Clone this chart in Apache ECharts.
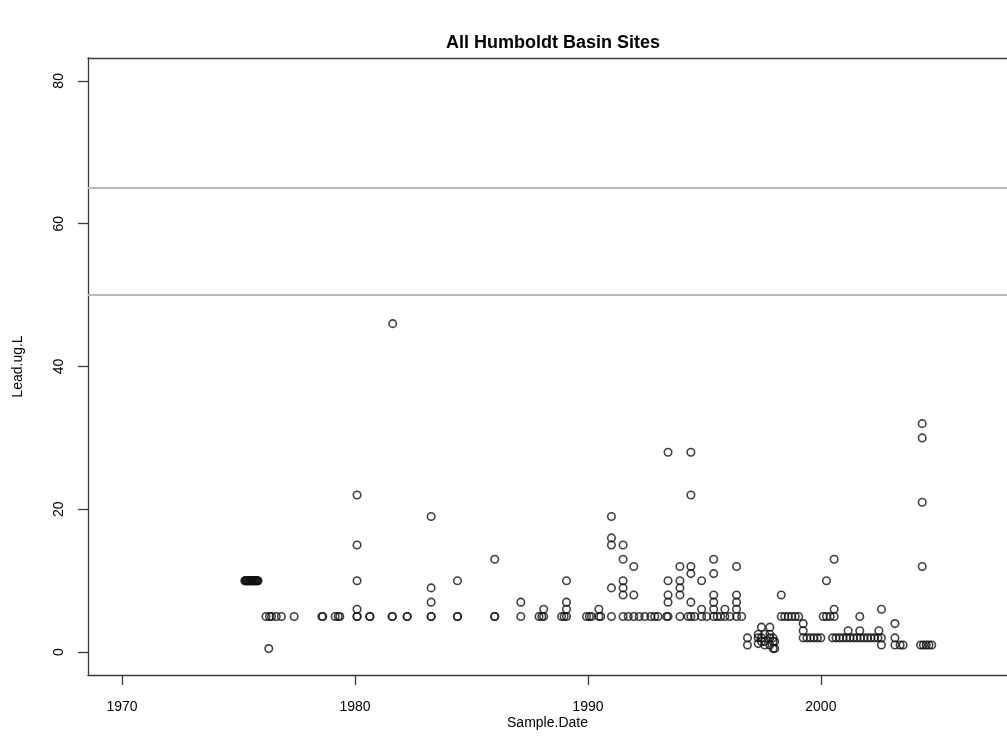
<!DOCTYPE html>
<html>
<head>
<meta charset="utf-8">
<script src="https://cdn.jsdelivr.net/npm/echarts@6/dist/echarts.min.js"></script>
<style>
html,body{margin:0;padding:0;background:#fff;}
#chart{width:1007px;height:756px;}
</style>
</head>
<body>
<div id="chart"></div>
<script>
// Sample dates (decimal years) and lead values (ug/L)
const sampleDate = [
  1975.27,1975.30,1975.33,1975.36,1975.39,1975.42,1975.45,1975.48,1975.51,1975.54,1975.57,1975.60,1975.63,1975.66,1975.69,1975.72,1975.75,1975.78,1975.81,1975.84,
  1976.18,1976.30,1976.33,1976.42,1976.62,1976.84,1977.39,
  1978.58,1978.62,1979.15,1979.28,1979.35,
  1980.09,1980.09,1980.09,1980.09,1980.09,1980.09,
  1980.64,1980.64,
  1981.62,1981.60,1981.60,
  1982.24,1982.24,
  1983.27,1983.27,1983.27,1983.27,1983.27,
  1984.40,1984.40,1984.40,
  1986.00,1986.00,1986.00,
  1987.12,1987.12,
  1987.90,1988.02,1988.10,1988.10,
  1988.87,1988.98,1989.08,1989.08,1989.08,1989.08,
  1989.94,1990.06,1990.15,
  1990.47,1990.47,1990.55,
  1991.01,1991.01,1991.01,1991.01,1991.01,
  1991.51,1991.51,1991.51,1991.51,1991.51,1991.51,
  1991.73,
  1991.97,1991.97,1991.97,
  1992.20,1992.44,1992.70,1992.87,1993.01,1993.38,
  1993.44,1993.44,1993.44,1993.44,1993.44,
  1993.95,1993.95,1993.95,1993.95,1993.95,
  1994.30,
  1994.42,1994.42,1994.42,1994.42,1994.42,1994.42,
  1994.58,
  1994.88,1994.88,1994.88,
  1995.10,
  1995.40,1995.40,1995.40,1995.40,1995.40,1995.40,
  1995.55,1995.70,1995.88,1995.88,1996.10,
  1996.38,1996.38,1996.38,1996.38,1996.38,
  1996.60,
  1996.85,1996.85,
  1997.31,1997.31,1997.31,
  1997.45,1997.45,1997.45,
  1997.59,1997.59,1997.59,
  1997.81,1997.81,1997.81,1997.81,
  1997.95,1997.95,1997.95,
  1998.02,1998.02,
  1998.30,1998.30,
  1998.45,1998.60,1998.75,1998.90,1999.05,
  1999.24,1999.24,1999.24,
  1999.40,1999.55,1999.70,1999.85,2000.00,
  2000.10,2000.24,2000.24,2000.40,2000.57,2000.57,2000.57,
  2000.50,2000.65,2000.80,2000.95,2001.10,2001.25,2001.40,2001.55,2001.70,2001.85,2002.00,2002.15,2002.30,2002.45,2002.60,
  2001.17,2001.67,2001.67,2002.49,2002.60,2002.60,
  2003.18,2003.18,2003.18,2003.40,2003.53,
  2004.35,2004.35,2004.35,2004.35,
  2004.28,2004.40,2004.52,2004.64,2004.76
];
const leadUgL = [
  10,10,10,10,10,10,10,10,10,10,10,10,10,10,10,10,10,10,10,10,
  5,0.5,5,5,5,5,5,
  5,5,5,5,5,
  22,15,10,6,5,5,
  5,5,
  46,5,5,
  5,5,
  19,9,7,5,5,
  10,5,5,
  13,5,5,
  7,5,
  5,5,6,5,
  5,5,10,7,6,5,
  5,5,5,
  6,5,5,
  19,16,15,9,5,
  15,13,10,9,8,5,
  5,
  12,8,5,
  5,5,5,5,5,5,
  28,10,8,7,5,
  12,10,9,8,5,
  5,
  28,22,12,11,7,5,
  5,
  10,6,5,
  5,
  13,11,8,7,6,5,
  5,5,6,5,5,
  12,8,7,6,5,
  5,
  2,1,
  2.5,2,1.2,
  3.5,2,1.5,
  2.5,1.5,1,
  3.5,2.5,2,1,
  2,1.5,0.5,
  1.5,0.5,
  8,5,
  5,5,5,5,5,
  4,3,2,
  2,2,2,2,2,
  5,10,5,5,13,6,5,
  2,2,2,2,2,2,2,2,2,2,2,2,2,2,2,
  3,5,3,3,6,1,
  4,2,1,1,1,
  32,30,21,12,
  1,1,1,1,1
];
const xTicks = [1970, 1980, 1990, 2000];
const yTicks = [0, 20, 40, 60, 80];
const refLines = [50, 65];

const points = sampleDate.map((d, i) => [d, leadUgL[i]]);
const FONT = 'Liberation Sans, Arial, Helvetica, sans-serif';
const xMin = 1968.54, xMax = 2007.99;
const AX = '#3a3a3a';

const chart = echarts.init(document.getElementById('chart'), null, {renderer: 'canvas'});
chart.setOption({
  animation: false,
  backgroundColor: '#fff',
  title: {
    text: 'All Humboldt Basin Sites',
    left: 548, top: 29, textAlign: 'center',
    textStyle: {fontFamily: FONT, fontWeight: 'bold', fontSize: 18, color: '#000'}
  },
  grid: {left: 88, right: 0, top: 58, bottom: 81},
  xAxis: [{
    type: 'value', min: xMin, max: xMax,
    name: 'Sample.Date', nameLocation: 'middle', nameGap: 41, nameMoveOverlap: false,
    nameTextStyle: {fontFamily: FONT, fontSize: 14, color: '#000'},
    axisLine: {show: true, onZero: false, lineStyle: {color: AX, width: 1.3}},
    axisTick: {show: true, inside: false, length: 10, customValues: xTicks, lineStyle: {color: AX, width: 1.3}},
    axisLabel: {customValues: xTicks, margin: 25, formatter: v => String(v), fontFamily: FONT, fontSize: 14, color: '#000'},
    splitLine: {show: false}
  }, {
    type: 'value', position: 'top', min: xMin, max: xMax,
    axisLine: {show: true, onZero: false, lineStyle: {color: AX, width: 1.3}},
    axisTick: {show: false}, axisLabel: {show: false}, splitLine: {show: false}
  }],
  yAxis: {
    type: 'value', min: -3.2, max: 83.2,
    name: 'Lead.ug.L', nameLocation: 'middle', nameGap: 63, nameMoveOverlap: false,
    nameTextStyle: {fontFamily: FONT, fontSize: 14, color: '#000'},
    axisLine: {show: true, onZero: false, lineStyle: {color: AX, width: 1.3}},
    axisTick: {show: true, inside: false, length: 10, customValues: yTicks, lineStyle: {color: AX, width: 1.3}},
    axisLabel: {customValues: yTicks, rotate: 90, margin: 22, formatter: v => String(v), fontFamily: FONT, fontSize: 14, color: '#000'},
    splitLine: {show: false}
  },
  series: [{
    type: 'scatter',
    data: points,
    symbol: 'circle',
    symbolSize: 7.5,
    itemStyle: {color: 'rgba(0,0,0,0)', borderColor: '#111', borderWidth: 1.6},
    markLine: {
      silent: true, symbol: 'none', label: {show: false},
      lineStyle: {color: '#b8b8b8', width: 2, type: 'solid'},
      data: refLines.map(v => ({yAxis: v}))
    }
  }]
});
</script>
</body>
</html>
